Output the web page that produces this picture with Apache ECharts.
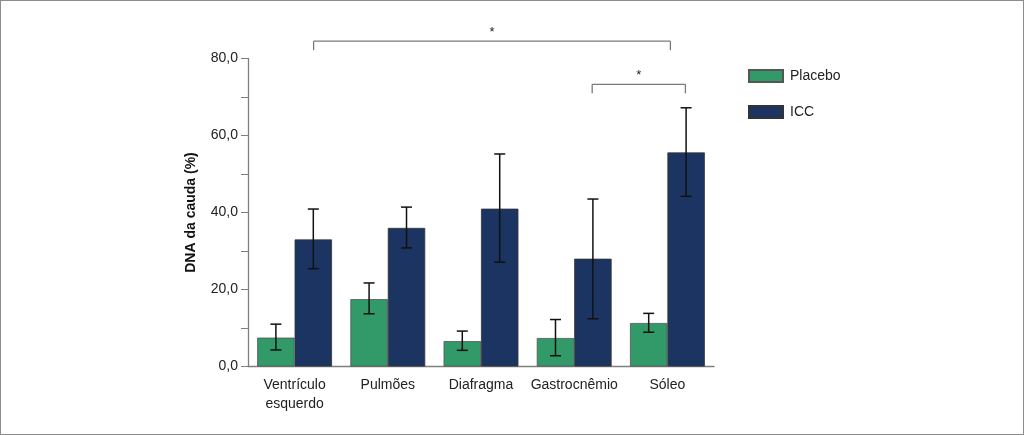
<!DOCTYPE html>
<html>
<head>
<meta charset="utf-8">
<script src="https://cdn.jsdelivr.net/npm/echarts@6/dist/echarts.min.js"></script>
<style>
  html, body { margin: 0; padding: 0; background: #fff; }
  #main { width: 1024px; height: 435px; box-sizing: border-box; border: 1px solid #8c8c8c; }
</style>
</head>
<body>
<div id="main"></div>
<script>
// dados
var categorias = ['Ventrículo\nesquerdo', 'Pulmões', 'Diafragma', 'Gastrocnêmio', 'Sóleo'];
var placebo = [7.5, 17.5, 6.6, 7.4, 11.3];
var placeboLow = [4.3, 13.7, 4.2, 2.8, 8.9];
var placeboHigh = [11.0, 21.7, 9.2, 12.2, 13.8];
var icc = [33.0, 36.0, 41.0, 28.0, 55.6];
var iccLow = [25.4, 30.8, 27.1, 12.4, 44.2];
var iccHigh = [40.9, 41.4, 55.2, 43.5, 67.2];
// colchetes de significância: [categoria inicial, categoria final, altura]
var colchetes = [[0, 4, 84.5], [3, 4, 73.3]];

var verde = '#319a68';
var azul = '#1c3462';
var fonte = '"Liberation Sans", Arial, sans-serif';

var chart = echarts.init(document.getElementById('main'));

function errData(low, high) {
    var d = [];
    for (var i = 0; i < low.length; i++) {
        d.push([i, low[i], high[i]]);
    }
    return d;
}

// desenha a barra de erro deslocada para o centro da barra do grupo
function errRender(side) {
    return function (params, api) {
        var band = api.size([1, 0])[0];
        var barW = band * (1 - 0.197) / 2;
        var cx = api.coord([api.value(0), 0])[0] + side * barW / 2;
        var lo = api.coord([api.value(0), api.value(1)])[1];
        var hi = api.coord([api.value(0), api.value(2)])[1];
        var cap = 5.5;
        var st = { stroke: '#111', lineWidth: 1.5 };
        return {
            type: 'group',
            children: [
                { type: 'line', shape: { x1: cx, y1: lo, x2: cx, y2: hi }, style: st },
                { type: 'line', shape: { x1: cx - cap, y1: hi, x2: cx + cap, y2: hi }, style: st },
                { type: 'line', shape: { x1: cx - cap, y1: lo, x2: cx + cap, y2: lo }, style: st }
            ]
        };
    };
}

// deslocamentos das pontas dos colchetes (em px a partir do centro da categoria)
var shifts = [[19, 3], [18, 18]];

function bracketRender(params, api) {
    var i = params.dataIndex;
    var a = api.coord([api.value(0), api.value(2)]);
    var b = api.coord([api.value(1), api.value(2)]);
    var x1 = a[0] + shifts[i][0];
    var x2 = b[0] + shifts[i][1];
    var y = a[1];
    var drop = 9;
    var st = { stroke: '#7a7a7a', lineWidth: 1.3 };
    return {
        type: 'group',
        children: [
            { type: 'line', shape: { x1: x1, y1: y, x2: x2, y2: y }, style: st },
            { type: 'line', shape: { x1: x1, y1: y, x2: x1, y2: y + drop }, style: st },
            { type: 'line', shape: { x1: x2, y1: y, x2: x2, y2: y + drop }, style: st },
            { type: 'text', style: { text: '*', x: (x1 + x2) / 2, y: y - 2, align: 'center', verticalAlign: 'bottom',
                fill: '#222', font: '13px ' + fonte } }
        ]
    };
}

chart.setOption({
    animation: false,
    textStyle: { fontFamily: fonte },
    grid: { left: 247, right: 309, top: 57.5, bottom: 67.5 },
    legend: {
        data: ['Placebo', 'ICC'],
        orient: 'vertical',
        left: 747,
        top: 68,
        padding: 0,
        itemWidth: 34,
        itemHeight: 12,
        itemGap: 22,
        icon: 'rect',
        textStyle: { fontSize: 14, color: '#222', padding: [0, 0, 0, 2] }
    },
    xAxis: {
        type: 'category',
        data: categorias,
        axisLine: { lineStyle: { color: '#7f7f7f', width: 1.3 } },
        axisTick: { show: false },
        axisLabel: { interval: 0, color: '#222', fontSize: 14, margin: 9, lineHeight: 19 }
    },
    yAxis: {
        type: 'value',
        min: 0,
        max: 80,
        interval: 10,
        name: 'DNA da cauda (%)',
        nameLocation: 'middle',
        nameGap: 50,
        nameTextStyle: { fontSize: 14, fontWeight: 'bold', color: '#111' },
        splitLine: { show: false },
        axisLine: { show: true, lineStyle: { color: '#7f7f7f', width: 1.3 } },
        axisTick: { show: true, length: 7, lineStyle: { color: '#7f7f7f' } },
        axisLabel: {
            color: '#222', fontSize: 14, margin: 10,
            formatter: function (v) { return v % 20 === 0 ? v.toFixed(1).replace('.', ',') : ''; }
        }
    },
    series: [
        {
            name: 'Placebo', type: 'bar', data: placebo, barGap: '0%', barCategoryGap: '19.7%',
            itemStyle: { color: verde, borderColor: '#555', borderWidth: 0.8 }
        },
        {
            name: 'ICC', type: 'bar', data: icc,
            itemStyle: { color: azul, borderColor: '#333', borderWidth: 0.8 }
        },
        {
            type: 'custom', renderItem: errRender(-1), data: errData(placeboLow, placeboHigh),
            encode: { x: 0, y: [1, 2] }, z: 10, silent: true
        },
        {
            type: 'custom', renderItem: errRender(1), data: errData(iccLow, iccHigh),
            encode: { x: 0, y: [1, 2] }, z: 10, silent: true
        },
        {
            type: 'custom', renderItem: bracketRender, data: colchetes, clip: false,
            encode: { x: [0, 1], y: 2 }, z: 10, silent: true
        }
    ]
});
</script>
</body>
</html>
